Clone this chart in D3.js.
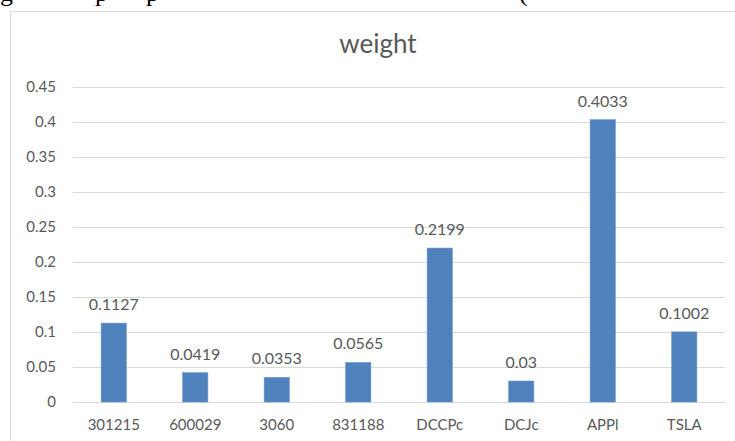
<!DOCTYPE html>
<html>
<head>
<meta charset="utf-8">
<script src="https://cdn.jsdelivr.net/npm/d3@7"></script>
<style>
html,body{margin:0;padding:0;background:#fff;overflow:hidden;}
svg{display:block;}
</style>
</head>
<body>
<svg id="chart" width="735" height="441"></svg>
<script>
const categories = ["301215","600029","3060","831188","DCCPc","DCJc","APPl","TSLA"];
const values = [0.1127,0.0419,0.0353,0.0565,0.2199,0.03,0.4033,0.1002];
const valueLabels = ["0.1127","0.0419","0.0353","0.0565","0.2199","0.03","0.4033","0.1002"];
const yTicks = [0,0.05,0.1,0.15,0.2,0.25,0.3,0.35,0.4,0.45];
const yTickLabels = ["0","0.05","0.1","0.15","0.2","0.25","0.3","0.35","0.4","0.45"];
const title = "weight";

(function () {
const svg = d3.select("#chart");
const font = "Lato, 'Open Sans', sans-serif";
const textColor = "#595959";

// cropped document text fragments above the chart
const frag = [["g",0],["p",95],["p",146],["(",519]];
svg.selectAll("text.frag").data(frag).join("text")
  .attr("class", "frag")
  .attr("x", d => d[1]).attr("y", 1)
  .attr("font-family", "'Liberation Serif', serif")
  .attr("font-size", 26).attr("fill", "#000")
  .text(d => d[0]);

// chart area border
svg.append("rect").attr("x", 10.5).attr("y", 11.5)
  .attr("width", 740).attr("height", 440)
  .attr("fill", "#fff").attr("stroke", "#d9d9d9").attr("stroke-width", 1);

const pLeft = 73, pRight = 725, pTop = 87, pBottom = 402;
const x = d3.scaleBand().domain(categories).range([pLeft, pRight]).paddingInner(0.69).paddingOuter(0.345);
const y = d3.scaleLinear().domain([0, 0.45]).range([pBottom, pTop]);

// gridlines
svg.append("g").selectAll("line").data(yTicks).join("line")
  .attr("x1", pLeft).attr("x2", pRight)
  .attr("y1", d => Math.round(y(d)) + 0.5).attr("y2", d => Math.round(y(d)) + 0.5)
  .attr("stroke", "#d9d9d9").attr("stroke-width", 1);

// y axis labels
const yAxis = d3.axisLeft(y).tickValues(yTicks).tickFormat((d, i) => yTickLabels[i]).tickSize(0).tickPadding(0);
const gy = svg.append("g").attr("transform", "translate(56,0)").call(yAxis);
gy.select(".domain").remove();
gy.selectAll("text").attr("font-family", font).attr("font-size", 15).attr("fill", textColor);

// x axis labels
const xAxis = d3.axisBottom(x).tickSize(0).tickPadding(0);
const gx = svg.append("g").attr("transform", `translate(0,${pBottom + 17})`).call(xAxis);
gx.select(".domain").remove();
gx.selectAll("text").attr("font-family", font).attr("font-size", 15).attr("fill", textColor);

// bars
svg.append("g").selectAll("rect").data(values).join("rect")
  .attr("x", (d, i) => x(categories[i]))
  .attr("width", x.bandwidth())
  .attr("y", d => y(d))
  .attr("height", d => pBottom - y(d))
  .attr("fill", "#4f81bd").attr("stroke", "#6f98cc").attr("stroke-width", 0.6);

// value labels
svg.append("g").selectAll("text").data(values).join("text")
  .attr("x", (d, i) => x(categories[i]) + x.bandwidth() / 2)
  .attr("y", d => y(d) - 13)
  .attr("text-anchor", "middle")
  .attr("font-family", font).attr("font-size", 16).attr("fill", textColor)
  .text((d, i) => valueLabels[i]);

// title
svg.append("text").attr("x", 378).attr("y", 53)
  .attr("text-anchor", "middle")
  .attr("font-family", font).attr("font-size", 26).attr("fill", textColor)
  .text(title);
})();
</script>
</body>
</html>
